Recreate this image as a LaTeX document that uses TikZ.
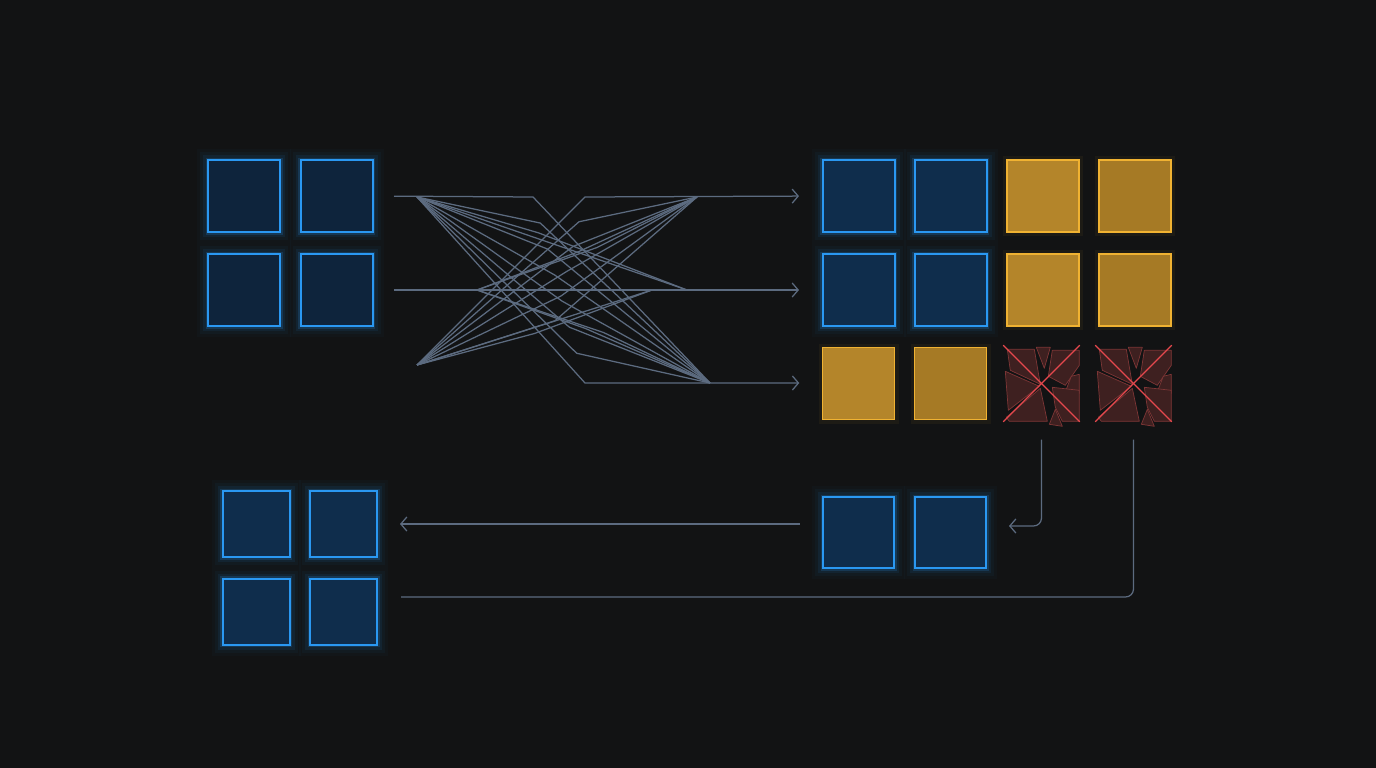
\documentclass[tikz,border=0pt]{standalone}
\usetikzlibrary{arrows.meta,calc}
\definecolor{bg}{HTML}{121314}
\definecolor{bstroke}{HTML}{2A98F2}
\definecolor{bfill}{HTML}{0F2D4C}
\definecolor{bfilldk}{HTML}{0E243C}
\definecolor{ostroke}{HTML}{F0B232}
\definecolor{ofill}{HTML}{B4852A}
\definecolor{ofilltwo}{HTML}{A67A25}
\definecolor{shardfill}{HTML}{3E2020}
\definecolor{shardline}{HTML}{7E3636}
\definecolor{xred}{HTML}{E5484D}
\definecolor{wire}{HTML}{5C6B80}
\newcommand{\shards}[1]{%
\begin{scope}[shift={(#1.north west)}]
\filldraw[shard] (2,2) -- (29,2) -- (35,37) -- (5,23) -- cycle;
\filldraw[shard] (31,0) -- (45,0) -- (39,21) -- cycle;
\filldraw[shard] (47,3) -- (74,3) -- (74,18) -- (60,38) -- (43,29) -- cycle;
\filldraw[shard] (66,29) -- (74,27) -- (74,46) -- (61,42) -- cycle;
\filldraw[shard] (0,24) -- (34,39) -- (3,63) -- cycle;
\filldraw[shard] (1,70) -- (35,41) -- (42,74) -- (4,74) -- cycle;
\filldraw[shard] (47,40) -- (74,43) -- (74,74) -- (57,74) -- (50,60) -- cycle;
\filldraw[shard] (44,77) -- (50,62) -- (57,79) -- cycle;
\end{scope}
\draw[xline] (#1.north west) -- (#1.south east);
\draw[xline] (#1.north east) -- (#1.south west);}
\begin{document}
\begin{tikzpicture}[x=1pt,y=-1pt,
  sq/.style={inner sep=0, minimum width=72pt, minimum height=72pt},
  bsq/.style={sq, draw=bstroke, fill=bfill, line width=2pt,
    preaction={draw=bstroke, line width=22pt, draw opacity=0.025, rounded corners=8pt},
    preaction={draw=bstroke, line width=16pt, draw opacity=0.04, rounded corners=5pt},
    preaction={draw=bstroke, line width=10pt, draw opacity=0.08, rounded corners=3pt},
    preaction={draw=bstroke, line width=5pt, draw opacity=0.18}},
  bsqdk/.style={bsq, fill=bfilldk},
  osq/.style={sq, draw=ostroke, fill=ofill, line width=1.5pt,
    preaction={draw=ostroke, line width=8pt, draw opacity=0.05}},
  osqtwo/.style={osq, fill=ofilltwo},
  rsq/.style={sq},
  shard/.style={fill=shardfill, draw=shardline, line width=0.7pt, line join=round},
  xline/.style={draw=xred, line width=1.1pt, shorten <=-3pt, shorten >=-3pt},
  wire/.style={draw=wire, line width=1.25pt, line join=round},
  arr/.style={wire, -{Straight Barb[length=6pt,width=14pt,line width=1.25pt]}}]
\useasboundingbox (0,0) rectangle (1376,768);
\fill[bg] (0,0) rectangle (1376,768);
% top-left input group
\node[bsqdk] (tl11) at (244,196) {};
\node[bsqdk] (tl12) at (336.5,196) {};
\node[bsqdk] (tl21) at (244,290) {};
\node[bsqdk] (tl22) at (336.5,290) {};
% right grid
\node[bsq] (r11) at (858.5,196) {};
\node[bsq] (r12) at (950.5,196) {};
\node[osq] (r13) at (1043,196) {};
\node[osqtwo] (r14) at (1135,196) {};
\node[bsq] (r21) at (858.5,290) {};
\node[bsq] (r22) at (950.5,290) {};
\node[osq] (r23) at (1043,290) {};
\node[osqtwo] (r24) at (1135,290) {};
\node[osq] (r31) at (858.5,383.5) {};
\node[osqtwo] (r32) at (950.5,383.5) {};
\node[rsq] (r33) at (1041.5,383.5) {};
\node[rsq] (r34) at (1133.5,383.5) {};
\shards{r33}
\shards{r34}
% bottom middle
\node[bsq, minimum width=71pt, minimum height=71pt] (bm1) at (858.5,532.5) {};
\node[bsq, minimum width=71pt, minimum height=71pt] (bm2) at (950.5,532.5) {};
% bottom left
\node[bsq, minimum width=67pt, minimum height=66pt] (bl11) at (256,524) {};
\node[bsq, minimum width=67pt, minimum height=66pt] (bl12) at (343.5,524) {};
\node[bsq, minimum width=67pt, minimum height=66pt] (bl21) at (256,611.5) {};
\node[bsq, minimum width=67pt, minimum height=66pt] (bl22) at (343.5,611.5) {};
% shuffle network
\coordinate (A) at (417,197);
\coordinate (B) at (477,290);
\coordinate (C) at (417,365);
\coordinate (D) at (697,197);
\coordinate (E) at (687,290);
\coordinate (E2) at (652,290);
\coordinate (F) at (710,383);
\coordinate (K1) at (533,197);
\coordinate (K2) at (585,197);
\coordinate (K3) at (585,383);
\coordinate (K4) at (545,362);
\draw[wire, shorten <=20.5pt] (tl12.east) -- (K1) -- (F);
\draw[arr, shorten >=22.5pt] (C) -- (K2) -- (r11.west);
\draw[arr, shorten <=20.5pt, shorten >=22.5pt] (tl22.east) -- (r21.west);
\draw[arr, shorten >=22.5pt] (A) -- (K3) -- (r31.west |- F);
\foreach \t in {0.14,0.28,0.42,0.56,0.7,0.84}
  \draw[wire] (A) -- ($(K1)!\t!(K3)$) -- (F);
\foreach \t in {0.15,0.3,0.45,0.6,0.75}
  \draw[wire] (C) -- ($(K2)!\t!(K4)$) -- (D);
\draw[wire] (A) -- ($(A)!.45!(E)+(0,-6)$) -- (E);
\draw[wire] (A) -- (E);
\draw[wire] (C) -- ($(C)!.5!(E2)+(0,6)$) -- (E2);
\draw[wire] (C) -- (E2);
\draw[wire] (B) -- ($(B)!.5!(D)+(-8,8)$) -- (D);
\draw[wire] (B) -- ($(B)!.5!(D)+(10,4)$) -- (D);
\draw[wire] (B) -- ($(B)!.5!(F)+(-8,-8)$) -- (F);
\draw[wire] (B) -- ($(B)!.5!(F)+(10,-4)$) -- (F);
% return paths
\draw[arr, rounded corners=8pt, shorten <=20pt, shorten >=22pt]
  (r33.south) -- ([yshift=6.5pt]r33.south |- bm2.east) -- ([yshift=6.5pt]bm2.east);
\draw[arr, shorten <=22.5pt, shorten >=22pt] (bm1.west |- bl12.east) -- (bl12.east);
\draw[wire, rounded corners=8pt, shorten <=20pt, shorten >=23pt]
  (r34.south) -- ([yshift=14.5pt]r34.south |- bl22.east) -- ([yshift=14.5pt]bl22.east);
\end{tikzpicture}
\end{document}
